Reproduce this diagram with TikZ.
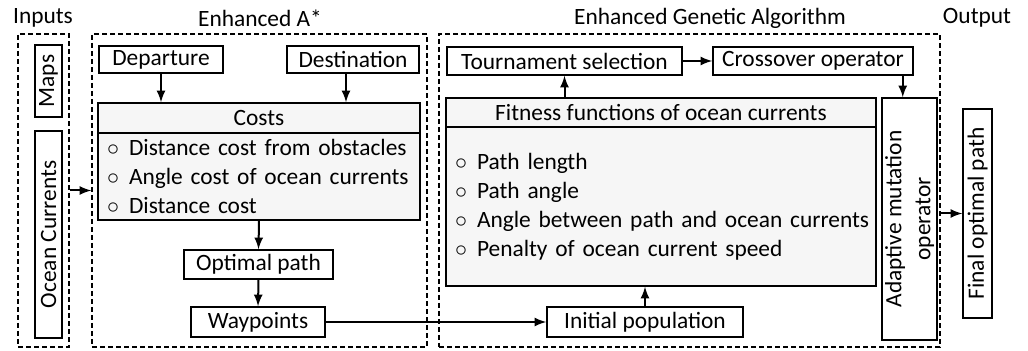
\documentclass[tikz,border=0pt]{standalone}
\usepackage{fontspec}
\setmainfont{Carlito}
\usepackage{tikz}

\tikzset{
  box/.style={draw, line width=0.75pt, inner sep=0pt, fill=white},
  shade/.style={box, fill=gray!7},
  grp/.style={draw, dash pattern=on 2.5pt off 1.5pt, line width=0.7pt, inner sep=0pt},
  arr/.style={->, >=latex, line width=1pt}
}
\newcommand{\bul}[1]{\mbox{$\circ$\hspace{5pt}#1}}

\begin{document}
\begin{tikzpicture}[x=0.5pt,y=-0.5pt,font=\fontsize{11.7}{14.5}\selectfont]
\useasboundingbox (0,0) rectangle (1028,351);

\node at (43,18) (tinp) {Inputs};
\node at (260,18) (tastar) {Enhanced A*};
\node at (710,18) (tga) {Enhanced Genetic Algorithm};
\node at (977,18) (tout) {Output};

% inputs
\node [grp, minimum width=25.5pt, minimum height=156.5pt] (inp) at (43.5,190.5) {};
\node [box, rotate=90, minimum width=36pt, minimum height=13.5pt] (maps) at (48.5,81) {Maps};
\node [box, rotate=90, minimum width=103.5pt, minimum height=13.5pt] (ocean) at (48.5,234.5) {Ocean Currents};

% enhanced A*
\node [grp, minimum width=167.5pt, minimum height=156.5pt] (astar) at (259.5,190.5) {};
\node [box, minimum width=62pt, minimum height=13.5pt] (dep) at (161,59.5) {Departure};
\node [box, minimum width=66pt, minimum height=13.5pt] (dest) at (353,59.5) {Destination};
\node [shade, minimum width=161pt, minimum height=15pt] (costs) at (259,118) {Costs};
\node [shade, minimum width=161pt, minimum height=43.5pt, text width=152pt, inner xsep=4.5pt, align=left] (costlist) at (259,176.5)
  {\bul{Distance cost from obstacles}\\ \bul{Angle cost of ocean currents}\\ \bul{Distance cost}};
\node [box, minimum width=74.5pt, minimum height=14.5pt] (opt) at (258.5,264.5) {Optimal path};
\node [box, minimum width=67pt, minimum height=15pt] (way) at (258,322) {Waypoints};

% enhanced GA
\node [grp, minimum width=250.5pt, minimum height=156.5pt] (ga) at (689.5,190.5) {};
\node [box, minimum width=117.5pt, minimum height=14pt] (tour) at (564.5,61) {Tournament selection};
\node [box, minimum width=100pt, minimum height=14pt] (cross) at (813,61) {Crossover operator};
\node [shade, minimum width=215pt, minimum height=14.5pt] (fit) at (661,112.5) {Fitness functions of ocean currents};
\node [shade, minimum width=215pt, minimum height=79.5pt, text width=206pt, inner xsep=4.5pt, align=left] (fitlist) at (661,206.5)
  {\bul{Path length}\\ \bul{Path angle}\\ \bul{Angle between path and ocean currents}\\ \bul{Penalty of ocean current speed}};
\node [box, rotate=90, minimum width=121pt, minimum height=27.5pt, align=center] (mut) at (909.5,219) {Adaptive mutation\\operator};
\node [box, minimum width=98pt, minimum height=15pt] (init) at (645,322) {Initial population};

% output
\node [box, rotate=90, minimum width=104.5pt, minimum height=14.5pt] (final) at (977.5,213.5) {Final optimal path};

\draw [arr] (inp.east) -- (astar.west);
\draw [arr] (dep.south) -- (dep.south |- costs.north);
\draw [arr] ([xshift=-3.5pt]dest.south) -- ([xshift=-3.5pt]dest.south |- costs.north);
\draw [arr] (costlist.south) -- (opt.north);
\draw [arr] (opt.south) -- (way.north);
\draw [arr] (way.east) -- (init.west);
\draw [arr] (init.north) -- (init.north |- fitlist.south);
\draw [arr] (tour.south |- fit.north) -- (tour.south);
\draw [arr] (tour.east) -- (cross.west);
\draw [arr] ([xshift=-5.5pt]cross.south east) -- ([xshift=-5.5pt]cross.south east |- mut.east);
\draw [arr] (ga.east |- final.north) -- (final.north);
\end{tikzpicture}
\end{document}
